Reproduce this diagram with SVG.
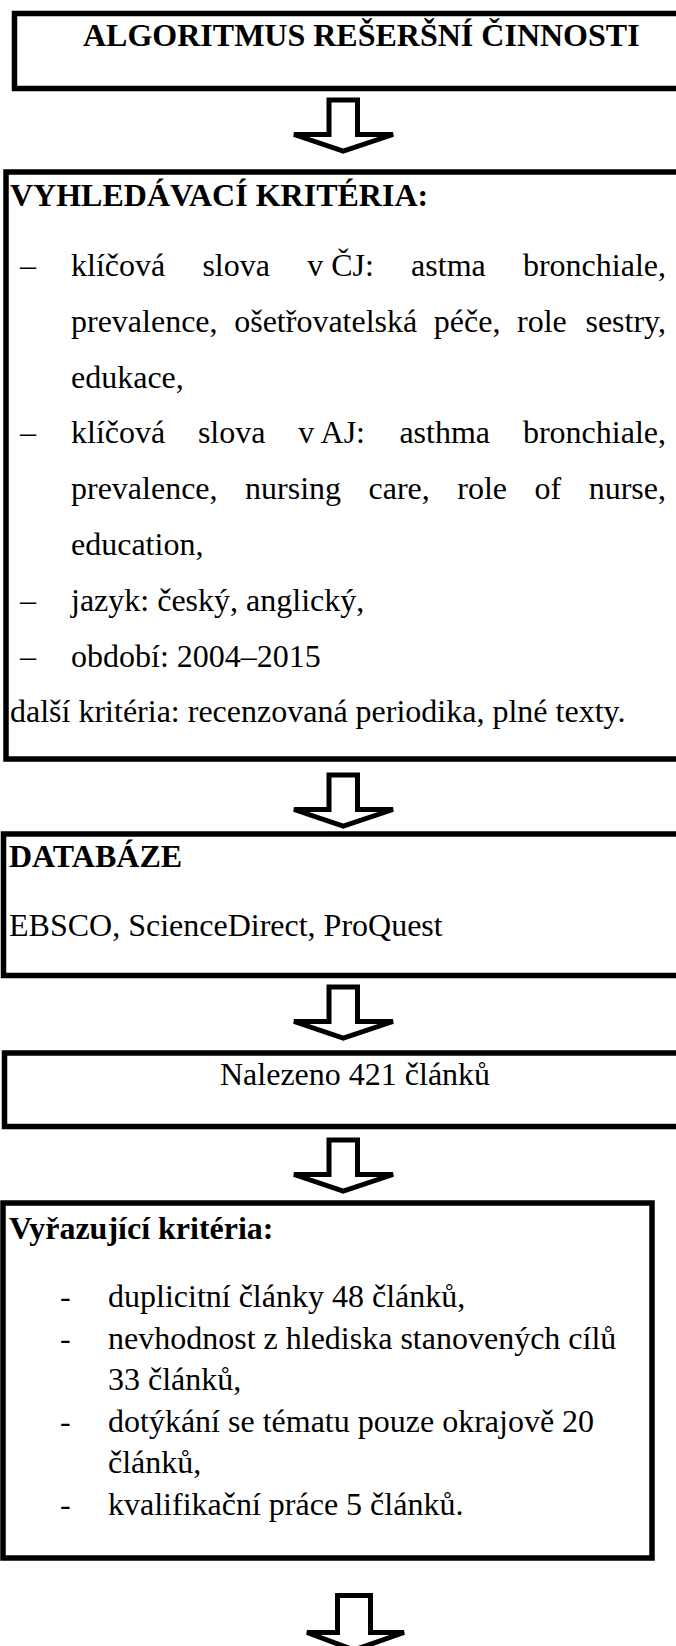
<svg xmlns="http://www.w3.org/2000/svg" width="676" height="1646" viewBox="0 0 676 1646">
<style>
.box{fill:#fff;stroke:#000;stroke-width:5.5}
.arrow{fill:#fff;stroke:#000;stroke-width:5}
text{font-family:"Liberation Serif","Times New Roman",serif;font-size:32px;fill:#000}
.b{font-weight:bold}
</style>
<rect width="676" height="1646" fill="#fff"/>
<g id="connectors">
<path class="arrow" d="M329,100 H357.5 V134.5 H393 L343.25,151 L294,134.5 H329 Z"/>
<path class="arrow" d="M329,775 H357.5 V809.5 H393 L343.25,826 L294,809.5 H329 Z"/>
<path class="arrow" d="M329,987 H357.5 V1021.5 H393 L343.25,1038 L294,1021.5 H329 Z"/>
<path class="arrow" d="M329,1140 H357.5 V1174.5 H393 L343.25,1191 L294,1174.5 H329 Z"/>
<path class="arrow" d="M337.5,1595.5 H370.5 V1632.5 H404 L354,1650 L307,1632.5 H337.5 Z"/>
</g>
<g id="node-title">
<rect class="box" x="14.5" y="13.5" width="720" height="75"/>
<text class="b" x="83" y="46">ALGORITMUS REŠERŠNÍ ČINNOSTI</text>
</g>
<g id="node-criteria">
<rect class="box" x="6" y="172" width="720" height="587"/>
<text class="b" x="10" y="206">VYHLEDÁVACÍ KRITÉRIA:</text>
<text x="20" y="276">–</text>
<text y="276"><tspan x="71">klíčová</tspan><tspan x="202.4">slova</tspan><tspan x="307.2">v ČJ:</tspan><tspan x="411.1">astma</tspan></text>
<text x="666" y="276" text-anchor="end">bronchiale,</text>
<text y="331.8"><tspan x="71">prevalence,</tspan><tspan x="234.2">ošetřovatelská</tspan><tspan x="433.8">péče,</tspan><tspan x="517">role</tspan></text>
<text x="666" y="331.8" text-anchor="end">sestry,</text>
<text x="71" y="387.6">edukace,</text>
<text x="20" y="443.4">–</text>
<text y="443.4"><tspan x="71">klíčová</tspan><tspan x="197.9">slova</tspan><tspan x="298.3">v AJ:</tspan><tspan x="399.4">asthma</tspan></text>
<text x="666" y="443.4" text-anchor="end">bronchiale,</text>
<text y="499.2"><tspan x="71">prevalence,</tspan><tspan x="245.1">nursing</tspan><tspan x="368.5">care,</tspan><tspan x="457.3">role</tspan><tspan x="534.6">of</tspan></text>
<text x="666" y="499.2" text-anchor="end">nurse,</text>
<text x="71" y="555">education,</text>
<text x="20" y="610.8">–</text>
<text x="71" y="610.8">jazyk: český, anglický,</text>
<text x="20" y="666.6">–</text>
<text x="71" y="666.6">období: 2004–2015</text>
<text x="10" y="722.4">další kritéria: recenzovaná periodika, plné texty.</text>
</g>
<g id="node-databases">
<rect class="box" x="3.5" y="834" width="720" height="141.5"/>
<text class="b" x="9" y="867">DATABÁZE</text>
<text x="9" y="936">EBSCO, ScienceDirect, ProQuest</text>
</g>
<g id="node-found">
<rect class="box" x="4.5" y="1053" width="720" height="73.5"/>
<text x="220" y="1085">Nalezeno 421 článků</text>
</g>
<g id="node-exclusion">
<rect class="box" x="3" y="1203" width="649" height="355"/>
<text class="b" x="9" y="1239">Vyřazující kritéria:</text>
<text x="60" y="1307">-</text>
<text x="108" y="1307">duplicitní články 48 článků,</text>
<text x="60" y="1348.6">-</text>
<text x="108" y="1348.6">nevhodnost z hlediska stanovených cílů</text>
<text x="108" y="1390.2">33 článků,</text>
<text x="60" y="1431.8">-</text>
<text x="108" y="1431.8">dotýkání se tématu pouze okrajově 20</text>
<text x="108" y="1473.4">článků,</text>
<text x="60" y="1515">-</text>
<text x="108" y="1515">kvalifikační práce 5 článků.</text>
</g>
</svg>
